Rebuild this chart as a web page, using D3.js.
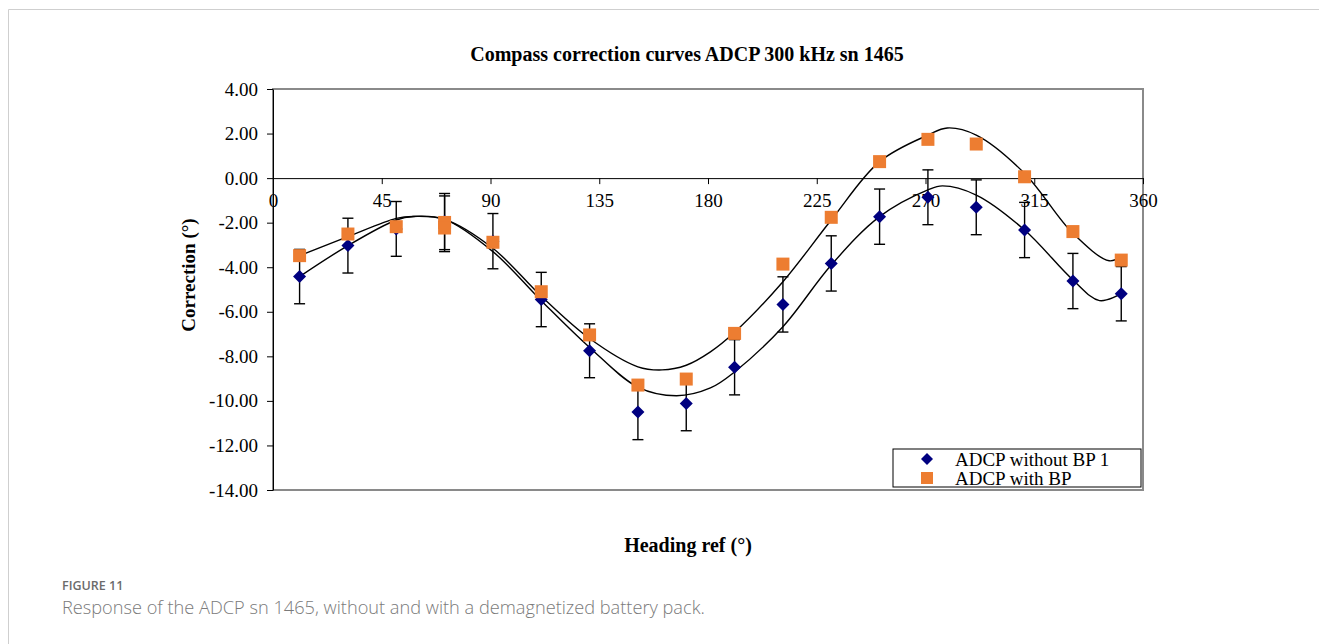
<!DOCTYPE html>
<html>
<head>
<meta charset="utf-8">
<script src="https://cdn.jsdelivr.net/npm/d3@7"></script>
<style>
  body { margin: 0; background: #fff; }
  svg { display: block; }
</style>
</head>
<body>
<svg id="chart" width="1319" height="644"></svg>
<script>
// measured headings (two readings at 71)
const headings = [11, 31, 51, 71, 71, 91, 111, 131, 151, 171, 191, 211, 231, 251, 271, 291, 311, 331, 351];
const withoutBP = [-4.42, -3.03, -2.28, -1.95, -2.05, -2.83, -5.45, -7.75, -10.5, -10.12, -8.49, -5.67, -3.83, -1.73, -0.86, -1.31, -2.33, -4.62, -5.19];
const withoutErr = [1.22, 1.23, 1.23, 1.26, 1.25, 1.24, 1.22, 1.21, 1.24, 1.22, 1.24, 1.24, 1.24, 1.24, 1.23, 1.23, 1.24, 1.24, 1.22];
const withBP = [-3.48, -2.51, -2.18, -1.99, -2.24, -2.88, -5.1, -7.04, -9.29, -9.02, -6.97, -3.86, -1.76, 0.74, 1.74, 1.53, 0.06, -2.4, -3.68];

// fitted curves
const fitWithoutX = [11, 31, 51, 58, 71, 91, 111, 131, 151, 167, 181, 191, 211, 231, 251, 271, 277, 291, 311, 331, 342, 351];
const fitWithoutY = [-4.42, -3.03, -1.88, -1.72, -1.85, -3.3, -5.5, -7.6, -9.38, -9.77, -9.42, -8.7, -6.67, -3.9, -1.73, -0.53, -0.35, -0.76, -2.33, -4.57, -5.5, -5.19];
const fitWithX = [11, 31, 51, 58, 71, 91, 111, 131, 151, 161, 171, 181, 191, 211, 231, 251, 271, 279, 291, 311, 331, 346, 351];
const fitWithY = [-3.48, -2.63, -1.81, -1.72, -1.85, -3.15, -5.3, -7.2, -8.47, -8.61, -8.4, -7.8, -6.92, -4.65, -1.88, 0.74, 1.93, 2.25, 1.93, 0.21, -2.48, -3.71, -3.5];

const xTicks = [0, 45, 90, 135, 180, 225, 270, 315, 360];
const yTicks = [4, 2, 0, -2, -4, -6, -8, -10, -12, -14];
const seriesNames = ['ADCP without BP 1', 'ADCP with BP'];

const serif = '"Liberation Serif", "Times New Roman", serif';
const svg = d3.select('#chart');

// figure frame
svg.append('path')
  .attr('d', 'M8.5,644 V9.5 H1319')
  .attr('fill', 'none')
  .attr('stroke', '#cfcfcf');

const margin = {top: 89, left: 273};
const width = 870;
const height = 401;

const x = d3.scaleLinear().domain([0, 360]).range([0, width]);
const y = d3.scaleLinear().domain([-14, 4]).range([height, 0]);

const chart = svg.append('g')
  .attr('transform', `translate(${margin.left}, ${margin.top})`);

// plot area border
chart.append('rect')
  .attr('x', 0).attr('y', 0)
  .attr('width', width).attr('height', height)
  .attr('fill', 'none')
  .attr('stroke', '#8a8a8a')
  .attr('stroke-width', 2);

// y axis
const yAxis = d3.axisLeft(y)
  .tickValues(yTicks)
  .tickSize(6)
  .tickSizeOuter(0)
  .tickPadding(9)
  .tickFormat(d => d.toFixed(2));

const axisY = chart.append('g').call(yAxis);
axisY.selectAll('text').attr('font-family', serif).attr('font-size', 19).attr('fill', '#000');
axisY.select('.domain').attr('stroke', '#000');

// x axis at zero
const xAxis = d3.axisBottom(x)
  .tickValues(xTicks)
  .tickSize(6)
  .tickSizeOuter(0)
  .tickPadding(9)
  .tickFormat(d3.format('d'));

const axisX = chart.append('g')
  .attr('transform', `translate(0, ${y(0)})`)
  .call(xAxis);
axisX.selectAll('text').attr('font-family', serif).attr('font-size', 19).attr('fill', '#000');

// fitted curves
const line = d3.line()
  .x(d => x(d[0]))
  .y(d => y(d[1]))
  .curve(d3.curveCatmullRom.alpha(0.5));

[[fitWithoutX, fitWithoutY], [fitWithX, fitWithY]].forEach(([xs, ys]) => {
  chart.append('path')
    .datum(xs.map((h, i) => [h, ys[i]]))
    .attr('d', line)
    .attr('fill', 'none')
    .attr('stroke', '#000')
    .attr('stroke-width', 1.4);
});

// error bars
const bars = chart.append('g').attr('stroke', '#000').attr('stroke-width', 1.4);
headings.forEach((h, i) => {
  const cx = x(h);
  const top = y(withoutBP[i] + withoutErr[i]);
  const bot = y(withoutBP[i] - withoutErr[i]);
  bars.append('line').attr('x1', cx).attr('x2', cx).attr('y1', top).attr('y2', bot);
  bars.append('line').attr('x1', cx - 5.5).attr('x2', cx + 5.5).attr('y1', top).attr('y2', top);
  bars.append('line').attr('x1', cx - 5.5).attr('x2', cx + 5.5).attr('y1', bot).attr('y2', bot);
});

const diamond = (cx, cy, r) => `M${cx},${cy - r}L${cx + r},${cy}L${cx},${cy + r}L${cx - r},${cy}Z`;

// without BP: navy diamonds
chart.append('g').selectAll('path')
  .data(headings.map((h, i) => [h, withoutBP[i]]))
  .join('path')
  .attr('d', d => diamond(x(d[0]), y(d[1]), 6.5))
  .attr('fill', '#000080');

// with BP: orange squares
chart.append('g').selectAll('rect')
  .data(headings.map((h, i) => [h, withBP[i]]))
  .join('rect')
  .attr('x', d => x(d[0]) - 6.5)
  .attr('y', d => y(d[1]) - 6.5)
  .attr('width', 13)
  .attr('height', 13)
  .attr('fill', '#ED7D31');

// legend
const legend = svg.append('g').attr('transform', 'translate(893, 449)');
legend.append('rect')
  .attr('width', 248).attr('height', 38)
  .attr('fill', '#fff')
  .attr('stroke', '#000');
legend.append('path').attr('d', diamond(34, 10, 6)).attr('fill', '#000080');
legend.append('rect').attr('x', 28).attr('y', 23).attr('width', 12).attr('height', 12).attr('fill', '#ED7D31');
seriesNames.forEach((name, i) => {
  legend.append('text')
    .attr('x', 62)
    .attr('y', 10 + i * 19)
    .attr('dy', '0.35em')
    .attr('font-family', serif)
    .attr('font-size', 19)
    .text(name);
});

// titles
svg.append('text')
  .attr('x', 687).attr('y', 54)
  .attr('dy', '0.35em')
  .attr('text-anchor', 'middle')
  .attr('font-family', serif)
  .attr('font-weight', 'bold')
  .attr('font-size', 20)
  .text('Compass correction curves ADCP 300 kHz sn 1465');

svg.append('text')
  .attr('x', 688).attr('y', 545)
  .attr('dy', '0.35em')
  .attr('text-anchor', 'middle')
  .attr('font-family', serif)
  .attr('font-weight', 'bold')
  .attr('font-size', 20)
  .text('Heading ref (°)');

svg.append('text')
  .attr('transform', 'translate(188, 275) rotate(-90)')
  .attr('dy', '0.35em')
  .attr('text-anchor', 'middle')
  .attr('font-family', serif)
  .attr('font-weight', 'bold')
  .attr('font-size', 19)
  .text('Correction (°)');

// caption
svg.append('text')
  .attr('x', 62).attr('y', 590)
  .attr('font-family', '"Open Sans", sans-serif')
  .attr('font-weight', 600)
  .attr('font-size', 12.5)
  .attr('fill', '#6b6b6b')
  .text('FIGURE 11');

svg.append('text')
  .attr('x', 62).attr('y', 614)
  .attr('font-family', '"Open Sans", sans-serif')
  .attr('font-weight', 300)
  .attr('font-size', 18.2)
  .attr('fill', '#7a7a7a')
  .text('Response of the ADCP sn 1465, without and with a demagnetized battery pack.');
</script>
</body>
</html>
